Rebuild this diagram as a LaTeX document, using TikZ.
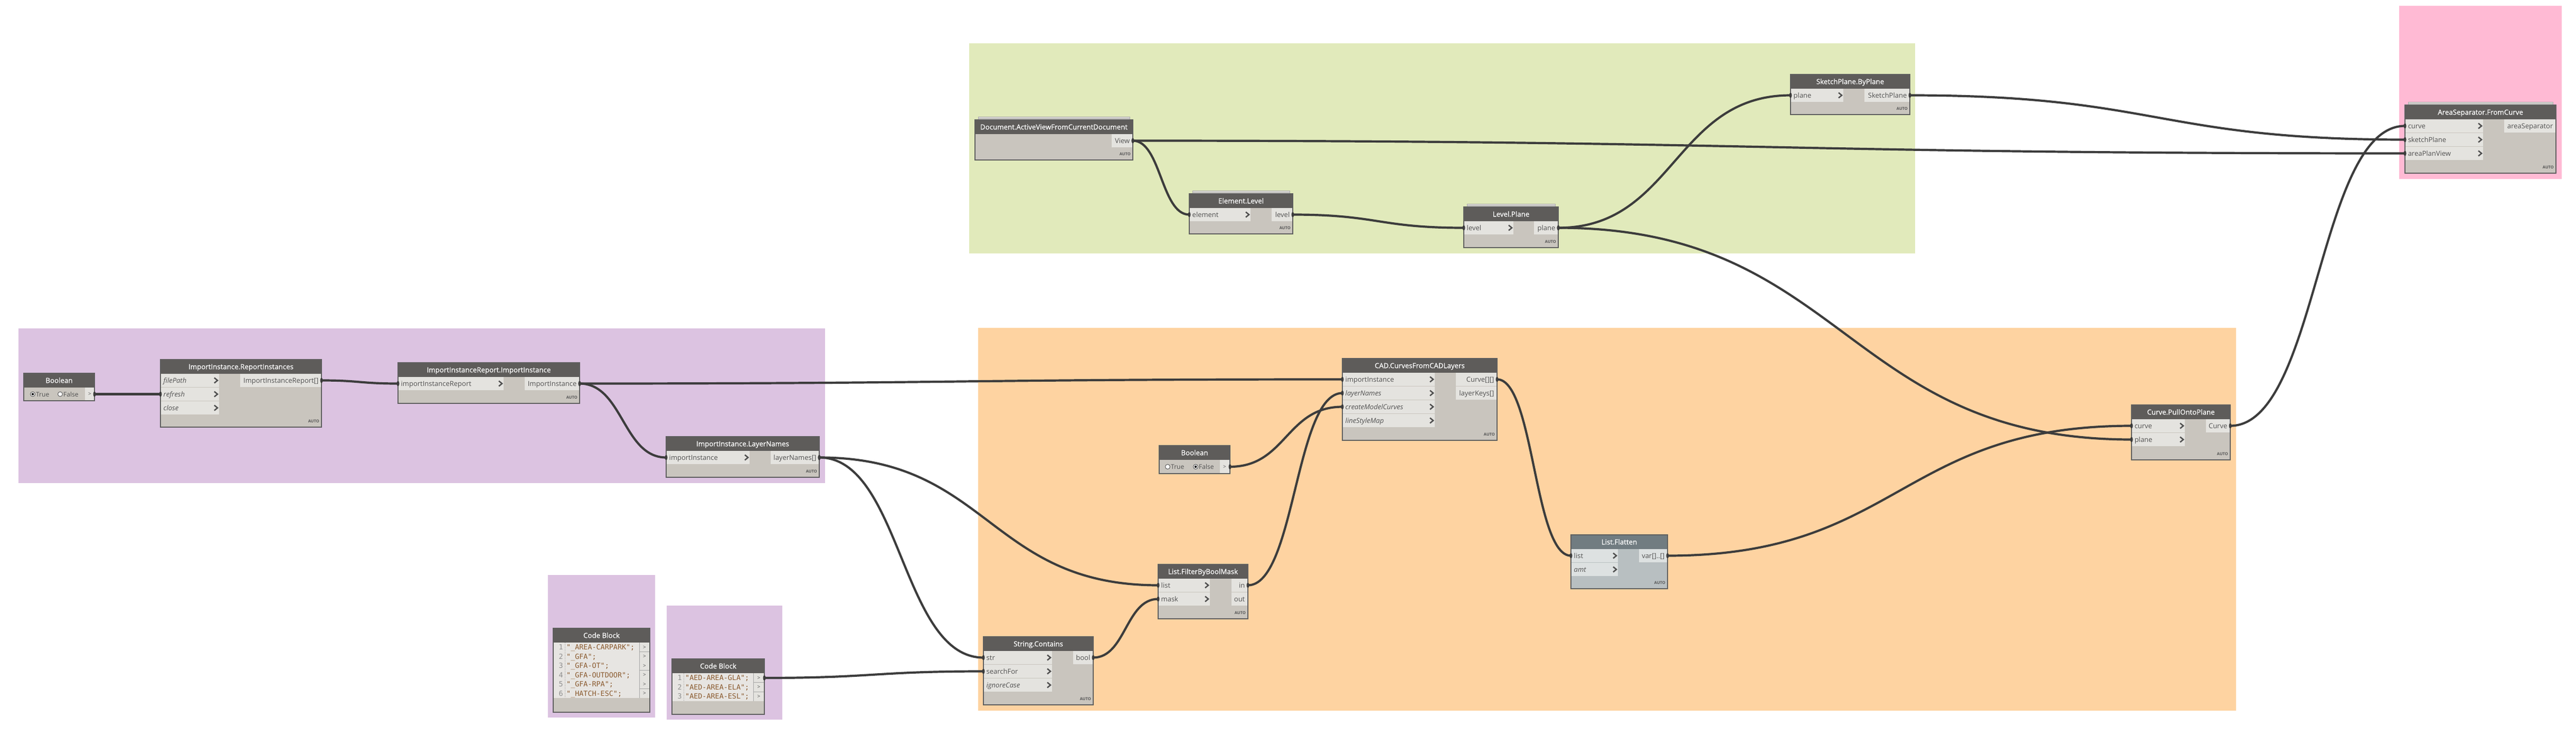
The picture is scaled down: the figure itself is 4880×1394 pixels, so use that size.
\documentclass[tikz,border=0pt]{standalone}
\usepackage{fontspec}
\setmainfont{Open Sans}
\newfontfamily\codefont{DejaVu Sans Mono}
\newfontfamily\headfont[FakeBold=0.6]{Open Sans}
\usetikzlibrary{calc,fit}
\pgfdeclarelayer{grp}
\pgfdeclarelayer{wires}
\pgfsetlayers{grp,wires,main}

\definecolor{gpurple}{HTML}{DCC3E1}
\definecolor{ggreen}{HTML}{E1EABB}
\definecolor{gpink}{HTML}{FFBAD4}
\definecolor{gorange}{HTML}{FED3A1}
\definecolor{headc}{HTML}{5E5C5A}
\definecolor{bodyc}{HTML}{C9C5BE}
\definecolor{rowc}{HTML}{E4E3DF}
\definecolor{borderc}{HTML}{5E5E5E}
\definecolor{lblc}{HTML}{505050}
\definecolor{chevc}{HTML}{4F4F4F}
\definecolor{autoc}{HTML}{555555}
\definecolor{wirec}{HTML}{3C3C3C}
\definecolor{codec}{HTML}{8A5A2E}
\definecolor{lnumc}{HTML}{8F8F8F}
\definecolor{stackc}{HTML}{A8A8A8}
\definecolor{stackf}{HTML}{DCDAD6}
\definecolor{codebg}{HTML}{E7E5E2}
\definecolor{sepc}{HTML}{A5A5A5}

\tikzset{
  grpbox/.style={draw=none,inner sep=0pt},
  ttl/.style={text=white,font=\headfont\fontsize{13.3}{15}\selectfont,inner sep=0pt,text height=9.5pt,text depth=0pt},
  plbl/.style={text=lblc,font=\fontsize{13}{15}\selectfont,inner sep=0pt,text height=9.3pt,text depth=0pt},
  autolab/.style={text=autoc,font=\fontsize{7.5}{9}\selectfont\bfseries,inner sep=0pt},
  chev/.style={draw=chevc,line width=2.5pt,line join=miter},
  wire/.style={draw=wirec,line width=4.2pt},
  frame/.style={draw=borderc,line width=1.3pt,inner sep=0pt},
  codetxt/.style={text=codec,font=\codefont\fontsize{13.4}{15}\selectfont,inner sep=0pt,text height=9.8pt,text depth=0pt},
  lnum/.style={text=lnumc,font=\codefont\fontsize{13.4}{15}\selectfont,inner sep=0pt,text height=9.8pt,text depth=0pt},
  btn/.style={text=lblc,font=\fontsize{10}{12}\selectfont,inner sep=0pt},
  radio/.style={draw=lblc,fill=white,line width=0.9pt},
  stackbox/.style={draw=stackc,fill=stackf,line width=1pt},
}

% body, header, title, named frame
\newcommand\dynbox[6]{%
  \fill[bodyc] (#2,#3) rectangle (#4,#5);
  \fill[headc] (#2,#3) rectangle (#4,{#3+27});
  \node[ttl] at ({(#2+#4)/2},{#3+13.5}) {#6};
  \node[frame,fit={(#2,#3) (#4,#5)}] (#1) {};
}
\newcommand\autolbl[2]{\node[autolab,anchor=east] at ({#1-4},{#2-11}) {AUTO};}
\newcommand\stackmark[3]{%
  \draw[stackbox] ({#1+6},{#2-6}) rectangle ({#3-6},{#2});
  \draw[stackc,line width=0.8pt] ({#1+6},{#2-3}) -- ({#3-6},{#2-3});
}
% #1 x1, #2 input-area right, #3 y1, #4 index, #5 label, #6 coordinate name, #7 font switch
\newcommand\inrow[7]{%
  \pgfmathsetmacro\dynrt{#3+27+(#4-1)*26}
  \fill[rowc] ({#1+1},{\dynrt}) rectangle (#2,{\dynrt+25});
  \node[plbl,anchor=west] at ({#1+5.5},{\dynrt+12.5}) {#7#5};
  \draw[chev] ({#2-9},{\dynrt+7.5}) -- ({#2-3},{\dynrt+12.5}) -- ({#2-9},{\dynrt+17.5});
  \coordinate (#6) at (#1,{\dynrt+12.5});
}
% #1 output-area left, #2 x2, #3 y1, #4 index, #5 label, #6 coordinate name
\newcommand\outrow[6]{%
  \pgfmathsetmacro\dynrt{#3+27+(#4-1)*26}
  \fill[rowc] (#1,{\dynrt}) rectangle ({#2-1},{\dynrt+25});
  \node[plbl,anchor=east] at ({#2-5.5},{\dynrt+12.5}) {#5};
  \coordinate (#6) at (#2,{\dynrt+12.5});
}
\newcommand\wire[2]{%
  \begin{pgfonlayer}{wires}
  \draw[wire] let \p1=(#1), \p2=(#2) in (\p1) .. controls ({0.5*\x1+0.5*\x2},\y1) and ({0.5*\x1+0.5*\x2},\y2) .. (\p2);
  \end{pgfonlayer}
  \fill[wirec] (#1) ellipse (2.5 and 5);
  \fill[wirec] (#2) ellipse (2.5 and 5);
}

\begin{document}
\begin{tikzpicture}[x=1pt,y=-1pt]
\useasboundingbox (0,0) rectangle (4880,1394);
\begin{pgfonlayer}{grp}
  \fill[white] (0,0) rectangle (4880,1394);
  \node[grpbox,fill=gpurple,fit={(35,622) (1563,915)}] (gImport) {};
  \node[grpbox,fill=ggreen,fit={(1836,82) (3628,480)}] (gLevel) {};
  \node[grpbox,fill=gpink,fit={(4545,11) (4853,339)}] (gArea) {};
  \node[grpbox,fill=gorange,fit={(1853,621) (4236,1346)}] (gCurves) {};
  \node[grpbox,fill=gpurple,fit={(1038,1089) (1241,1359)}] (gCodeA) {};
  \node[grpbox,fill=gpurple,fit={(1263,1147) (1482,1363)}] (gCodeB) {};
\end{pgfonlayer}

% ---- Boolean (left)
\dynbox{boolA}{45}{707}{179}{759}{Boolean}
\fill[rowc] (161,734) rectangle (178,758);
\node[btn] at (170,746.5) {>};
\draw[radio] (62,746.5) circle (4.5);
\fill[black] (62,746.5) circle (2.2);
\node[plbl,anchor=west,font=\fontsize{12}{14}\selectfont] at (68,746.5) {True};
\draw[radio] (114,746.5) circle (4.5);
\node[plbl,anchor=west,font=\fontsize{12}{14}\selectfont] at (120,746.5) {False};
\coordinate (boolA-o) at (179,746.5);

% ---- ImportInstance.ReportInstances
\dynbox{rri}{304}{681}{609}{809}{ImportInstance.ReportInstances}
\inrow{304}{415}{681}{1}{filePath}{rri-i1}{\itshape}
\inrow{304}{415}{681}{2}{refresh}{rri-i2}{\itshape}
\inrow{304}{415}{681}{3}{close}{rri-i3}{\itshape}
\outrow{455}{609}{681}{1}{ImportInstanceReport[]}{rri-o1}
\autolbl{609}{809}

% ---- ImportInstanceReport.ImportInstance
\dynbox{iri}{754}{687}{1098}{764}{ImportInstanceReport.ImportInstance}
\inrow{754}{954}{687}{1}{importInstanceReport}{iri-i1}{}
\outrow{994}{1098}{687}{1}{ImportInstance}{iri-o1}
\autolbl{1098}{764}

% ---- ImportInstance.LayerNames
\dynbox{iln}{1262}{827}{1552}{904}{ImportInstance.LayerNames}
\inrow{1262}{1420}{827}{1}{importInstance}{iln-i1}{}
\outrow{1460}{1552}{827}{1}{layerNames[]}{iln-o1}
\autolbl{1552}{904}

% ---- Document.ActiveViewFromCurrentDocument
\stackmark{1847}{227}{2146}
\dynbox{doc}{1847}{227}{2146}{303}{Document.ActiveViewFromCurrentDocument}
\outrow{2106}{2146}{227}{1}{View}{doc-o1}
\autolbl{2146}{303}

% ---- Element.Level
\stackmark{2253}{367}{2449}
\dynbox{elv}{2253}{367}{2449}{443}{Element.Level}
\inrow{2253}{2369}{367}{1}{element}{elv-i1}{}
\outrow{2409}{2449}{367}{1}{level}{elv-o1}
\autolbl{2449}{443}

% ---- Level.Plane
\stackmark{2773}{392}{2952}
\dynbox{lpl}{2773}{392}{2952}{469}{Level.Plane}
\inrow{2773}{2867}{392}{1}{level}{lpl-i1}{}
\outrow{2906}{2952}{392}{1}{plane}{lpl-o1}
\autolbl{2952}{469}

% ---- SketchPlane.ByPlane
\dynbox{skp}{3392}{141}{3618}{217}{SketchPlane.ByPlane}
\inrow{3392}{3492}{141}{1}{plane}{skp-i1}{}
\outrow{3532}{3618}{141}{1}{SketchPlane}{skp-o1}
\autolbl{3618}{217}

% ---- AreaSeparator.FromCurve
\stackmark{4556}{199}{4842}
\dynbox{asp}{4556}{199}{4842}{328}{AreaSeparator.FromCurve}
\inrow{4556}{4704}{199}{1}{curve}{asp-i1}{}
\inrow{4556}{4704}{199}{2}{sketchPlane}{asp-i2}{}
\inrow{4556}{4704}{199}{3}{areaPlanView}{asp-i3}{}
\outrow{4744}{4842}{199}{1}{areaSeparator}{asp-o1}
\autolbl{4842}{328}

% ---- CAD.CurvesFromCADLayers
\dynbox{cad}{2543}{679}{2836}{834}{CAD.CurvesFromCADLayers}
\inrow{2543}{2718}{679}{1}{importInstance}{cad-i1}{}
\inrow{2543}{2718}{679}{2}{layerNames}{cad-i2}{\itshape}
\inrow{2543}{2718}{679}{3}{createModelCurves}{cad-i3}{\itshape}
\inrow{2543}{2718}{679}{4}{lineStyleMap}{cad-i4}{\itshape}
\outrow{2758}{2836}{679}{1}{Curve[][]}{cad-o1}
\outrow{2758}{2836}{679}{2}{layerKeys[]}{cad-o2}
\autolbl{2836}{834}

% ---- Boolean (orange group)
\dynbox{boolB}{2196}{844}{2330}{897}{Boolean}
\fill[rowc] (2311,871) rectangle (2329,896);
\node[btn] at (2320,884) {>};
\draw[radio] (2212,884) circle (4.5);
\node[plbl,anchor=west,font=\fontsize{12}{14}\selectfont] at (2218,884) {True};
\draw[radio] (2265,884) circle (4.5);
\fill[black] (2265,884) circle (2.2);
\node[plbl,anchor=west,font=\fontsize{12}{14}\selectfont] at (2271,884) {False};
\coordinate (boolB-o) at (2330,884);

% ---- List.FilterByBoolMask
\dynbox{fbm}{2194}{1069}{2364}{1172}{List.FilterByBoolMask}
\inrow{2194}{2292}{1069}{1}{list}{fbm-i1}{}
\inrow{2194}{2292}{1069}{2}{mask}{fbm-i2}{}
\outrow{2333}{2364}{1069}{1}{in}{fbm-o1}
\outrow{2333}{2364}{1069}{2}{out}{fbm-o2}
\autolbl{2364}{1172}

% ---- String.Contains
\dynbox{stc}{1863}{1206}{2071}{1335}{String.Contains}
\inrow{1863}{1993}{1206}{1}{str}{stc-i1}{}
\inrow{1863}{1993}{1206}{2}{searchFor}{stc-i2}{}
\inrow{1863}{1993}{1206}{3}{ignoreCase}{stc-i3}{\itshape}
\outrow{2033}{2071}{1206}{1}{bool}{stc-o1}
\autolbl{2071}{1335}

% ---- Curve.PullOntoPlane
\dynbox{pop}{4038}{767}{4225}{871}{Curve.PullOntoPlane}
\inrow{4038}{4139}{767}{1}{curve}{pop-i1}{}
\inrow{4038}{4139}{767}{2}{plane}{pop-i2}{}
\outrow{4179}{4225}{767}{1}{Curve}{pop-o1}
\autolbl{4225}{871}

% ---- Code Block 1
\dynbox{cb1}{1048}{1190}{1231}{1349}{Code Block}
\fill[codebg] (1049,1217) rectangle (1211,1322);
\fill[rowc] (1212,1217) rectangle (1230,1322);
\draw[sepc,line width=1pt] (1211.5,1217) -- (1211.5,1322);
\draw[lnumc,dotted,line width=1pt] (1070,1217) -- (1070,1322);
\foreach \yy in {1234.5,1269.5,1304.5} {\draw[sepc,line width=0.8pt] (1212,\yy) -- (1230,\yy);}
\foreach \ii/\tt [count=\cc from 0] in {1/{"\_AREA-CARPARK";},2/{"\_GFA";},3/{"\_GFA-OT";},4/{"\_GFA-OUTDOOR";},5/{"\_GFA-RPA";},6/{"\_HATCH-ESC";}} {
  \pgfmathsetmacro\yl{1226+17.5*\cc}
  \node[lnum,anchor=east] at (1067,\yl) {\ii};
  \node[codetxt,anchor=west] at (1073,\yl) {\tt};
  \node[btn] at (1221,\yl) {>};
}

% ---- Code Block 2
\dynbox{cb2}{1273}{1248}{1448}{1353}{Code Block}
\fill[codebg] (1274,1275) rectangle (1427,1328);
\fill[rowc] (1428,1275) rectangle (1447,1328);
\draw[sepc,line width=1pt] (1427.5,1275) -- (1427.5,1328);
\draw[lnumc,dotted,line width=1pt] (1295,1275) -- (1295,1328);
\foreach \yy in {1292.7,1310.2} {\draw[sepc,line width=0.8pt] (1428,\yy) -- (1447,\yy);}
\foreach \ii/\tt [count=\cc from 0] in {1/{"AED-AREA-GLA";},2/{"AED-AREA-ELA";},3/{"AED-AREA-ESL";}} {
  \pgfmathsetmacro\yl{1284+17.5*\cc}
  \node[lnum,anchor=east] at (1292,\yl) {\ii};
  \node[codetxt,anchor=west] at (1298,\yl) {\tt};
  \node[btn] at (1437.5,\yl) {>};
}
\coordinate (cb2-o1) at (1448,1284);

% ---- List.Flatten (blue-grey)
\begin{scope}
\definecolor{headc}{HTML}{717C81}
\definecolor{bodyc}{HTML}{B8BFC1}
\definecolor{rowc}{HTML}{DDE1E1}
\dynbox{fla}{2976}{1013}{3159}{1115}{List.Flatten}
\inrow{2976}{3065}{1013}{1}{list}{fla-i1}{}
\inrow{2976}{3065}{1013}{2}{amt}{fla-i2}{\itshape}
\outrow{3105}{3159}{1013}{1}{var[]..[]}{fla-o1}
\autolbl{3159}{1115}
\end{scope}

% ---- connectors
\wire{boolA-o}{rri-i2}
\wire{rri-o1}{iri-i1}
\wire{iri-o1}{cad-i1}
\wire{iri-o1}{iln-i1}
\wire{iln-o1}{fbm-i1}
\wire{iln-o1}{stc-i1}
\wire{cb2-o1}{stc-i2}
\wire{stc-o1}{fbm-i2}
\wire{fbm-o1}{cad-i2}
\wire{boolB-o}{cad-i3}
\wire{cad-o1}{fla-i1}
\wire{fla-o1}{pop-i1}
\wire{lpl-o1}{pop-i2}
\wire{lpl-o1}{skp-i1}
\wire{elv-o1}{lpl-i1}
\wire{doc-o1}{elv-i1}
\wire{doc-o1}{asp-i3}
\wire{skp-o1}{asp-i2}
\wire{pop-o1}{asp-i1}
\end{tikzpicture}
\end{document}
